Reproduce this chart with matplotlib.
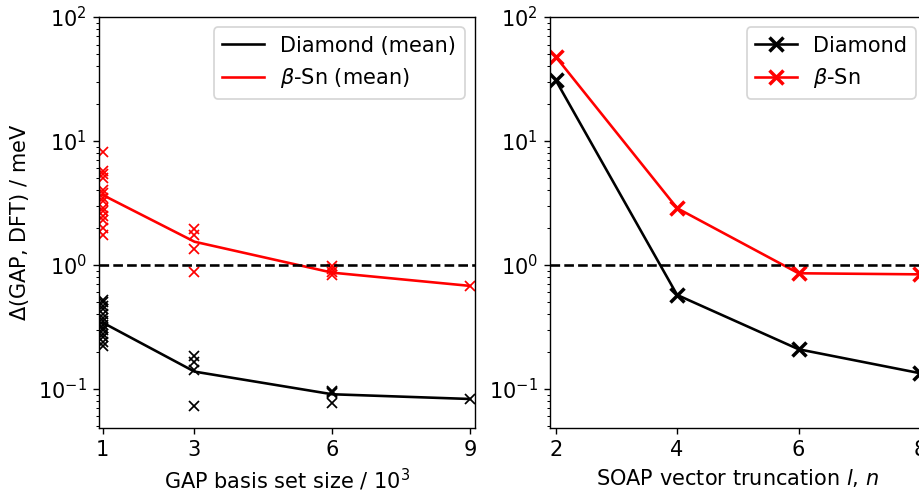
import matplotlib.pyplot as plt

# Per-run errors for each GAP basis set size (thousands of sparse points)
SIZES = [1, 3, 6, 9]
DIAMOND_RUNS = [
    [0.52, 0.50, 0.47, 0.44, 0.40, 0.37, 0.35, 0.33, 0.31, 0.30, 0.28, 0.26, 0.24, 0.22],
    [0.184, 0.166, 0.141, 0.073],
    [0.097, 0.095, 0.092, 0.077],
    [0.083],
]
BSN_RUNS = [
    [8.1, 5.7, 5.4, 5.0, 4.0, 3.8, 3.5, 3.3, 2.9, 2.7, 2.5, 2.3, 2.0, 1.75],
    [1.94, 1.75, 1.35, 0.87],
    [0.98, 0.92, 0.87, 0.83],
    [0.68],
]
DIAMOND_MEAN = [0.343, 0.138, 0.0906, 0.083]
BSN_MEAN = [3.67, 1.54, 0.867, 0.678]

# SOAP truncation l = n
TRUNC = [2, 4, 6, 8]
DIAMOND_SOAP = [31.0, 0.573, 0.209, 0.134]
BSN_SOAP = [47.9, 2.87, 0.857, 0.84]

plt.rcParams["font.size"] = 12

DPI = 125
W, H = 919, 490
fig = plt.figure(figsize=(W / DPI, H / DPI), dpi=DPI)
ax1 = fig.add_axes([99 / W, 1 - 428 / H, 376 / W, 411 / H])
ax2 = fig.add_axes([550 / W, 1 - 428 / H, 376 / W, 411 / H])

for size, d, b in zip(SIZES, DIAMOND_RUNS, BSN_RUNS):
    ax1.plot([size] * len(d), d, "kx")
    ax1.plot([size] * len(b), b, "x", color="red")
ax1.plot(SIZES, DIAMOND_MEAN, "k-", label="Diamond (mean)")
ax1.plot(SIZES, BSN_MEAN, "-", color="red", label=r"$\beta$-Sn (mean)")
ax1.axhline(1.0, color="k", ls="--")
ax1.set_yscale("log")
ax1.set_ylim(10 ** -1.315, 100)
ax1.set_xlim(0.92, 9.11)
ax1.set_xticks(SIZES)
ax1.set_xlabel(r"GAP basis set size / $10^3$")
ax1.set_ylabel(r"$\Delta$(GAP, DFT) / meV")
ax1.legend(loc="upper right")

ax2.plot(TRUNC, DIAMOND_SOAP, "k-x", ms=8, mew=2, label="Diamond")
ax2.plot(TRUNC, BSN_SOAP, "-x", color="red", ms=8, mew=2, label=r"$\beta$-Sn")
ax2.axhline(1.0, color="k", ls="--")
ax2.set_yscale("log")
ax2.set_ylim(10 ** -1.315, 100)
ax2.set_xlim(1.906, 8.1)
ax2.set_xticks(TRUNC)
ax2.set_xlabel(r"SOAP vector truncation $l$, $n$")
ax2.legend(loc="upper right")

fig.savefig("out.png", dpi=DPI)
